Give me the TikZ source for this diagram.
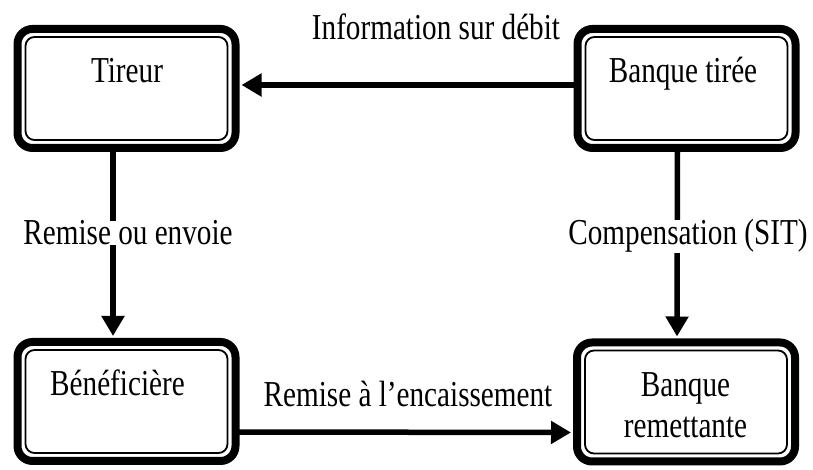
\documentclass[tikz,border=0pt]{standalone}
\usepackage{fontspec}
\setmainfont{Liberation Serif}[FakeStretch=0.80]
\usetikzlibrary{arrows.meta}
\tikzset{
  boite/.style={draw, line width=8pt, rounded corners=15pt, minimum width=218pt, minimum height=119pt, inner sep=0pt, outer sep=0pt},
  cadre/.style={line width=1.8pt, rounded corners=9pt},
  fleche/.style={line width=5.5pt, -{Triangle[length=20pt,width=22pt]}, shorten >=6pt},
  etiq/.style={anchor=base, fill=white, inner sep=0pt, font=\fontsize{36.5pt}{41pt}\selectfont}
}
\begin{document}
\begin{tikzpicture}[x=1pt,y=1pt]
\useasboundingbox (0,0) rectangle (813,470);
\node[boite] (tireur) at (126.5,381.5) {};
\node[boite] (benef) at (126.5,68.5) {};
\node[boite] (tiree) at (686.5,381.5) {};
\node[boite] (remet) at (686,68) {};
\foreach \b in {tireur,benef,tiree,remet}
  \draw[cadre] ([shift={(8,-8)}]\b.north west) rectangle ([shift={(-8,8)}]\b.south east);
\node[etiq] (ttireur) at ([xshift=0.5,yshift=-54]tireur.north) {Tireur};
\node[etiq] (tbenef) at ([xshift=-9,yshift=-54]benef.north) {Bénéficière};
\node[etiq] (ttiree) at ([xshift=-3.5,yshift=-54]tiree.north) {Banque tirée};
\node[etiq] (tremet) at ([xshift=-0.5,yshift=-54]remet.north) {\begin{tabular}[t]{@{}c@{}}Banque\\remettante\end{tabular}};
\draw[fleche] ([yshift=3.5]tiree.west) -- ([yshift=3.5]tireur.east);
\draw[fleche] ([xshift=-13.5]tireur.south) -- ([xshift=-13.5]benef.north);
\draw[fleche] ([xshift=-9]tiree.south) -- ([xshift=-9]remet.north);
\draw[fleche] ([yshift=-30.5]benef.east) -- ([yshift=-30.5]remet.west);
\node[etiq] (info) at (436,430) {Information sur débit};
\node[etiq] (remise) at (128,225) {Remise ou envoie};
\node[etiq] (comp) at (688,225) {Compensation (SIT)};
\node[etiq] (encais) at (408,63) {Remise à l’encaissement};
\end{tikzpicture}
\end{document}
